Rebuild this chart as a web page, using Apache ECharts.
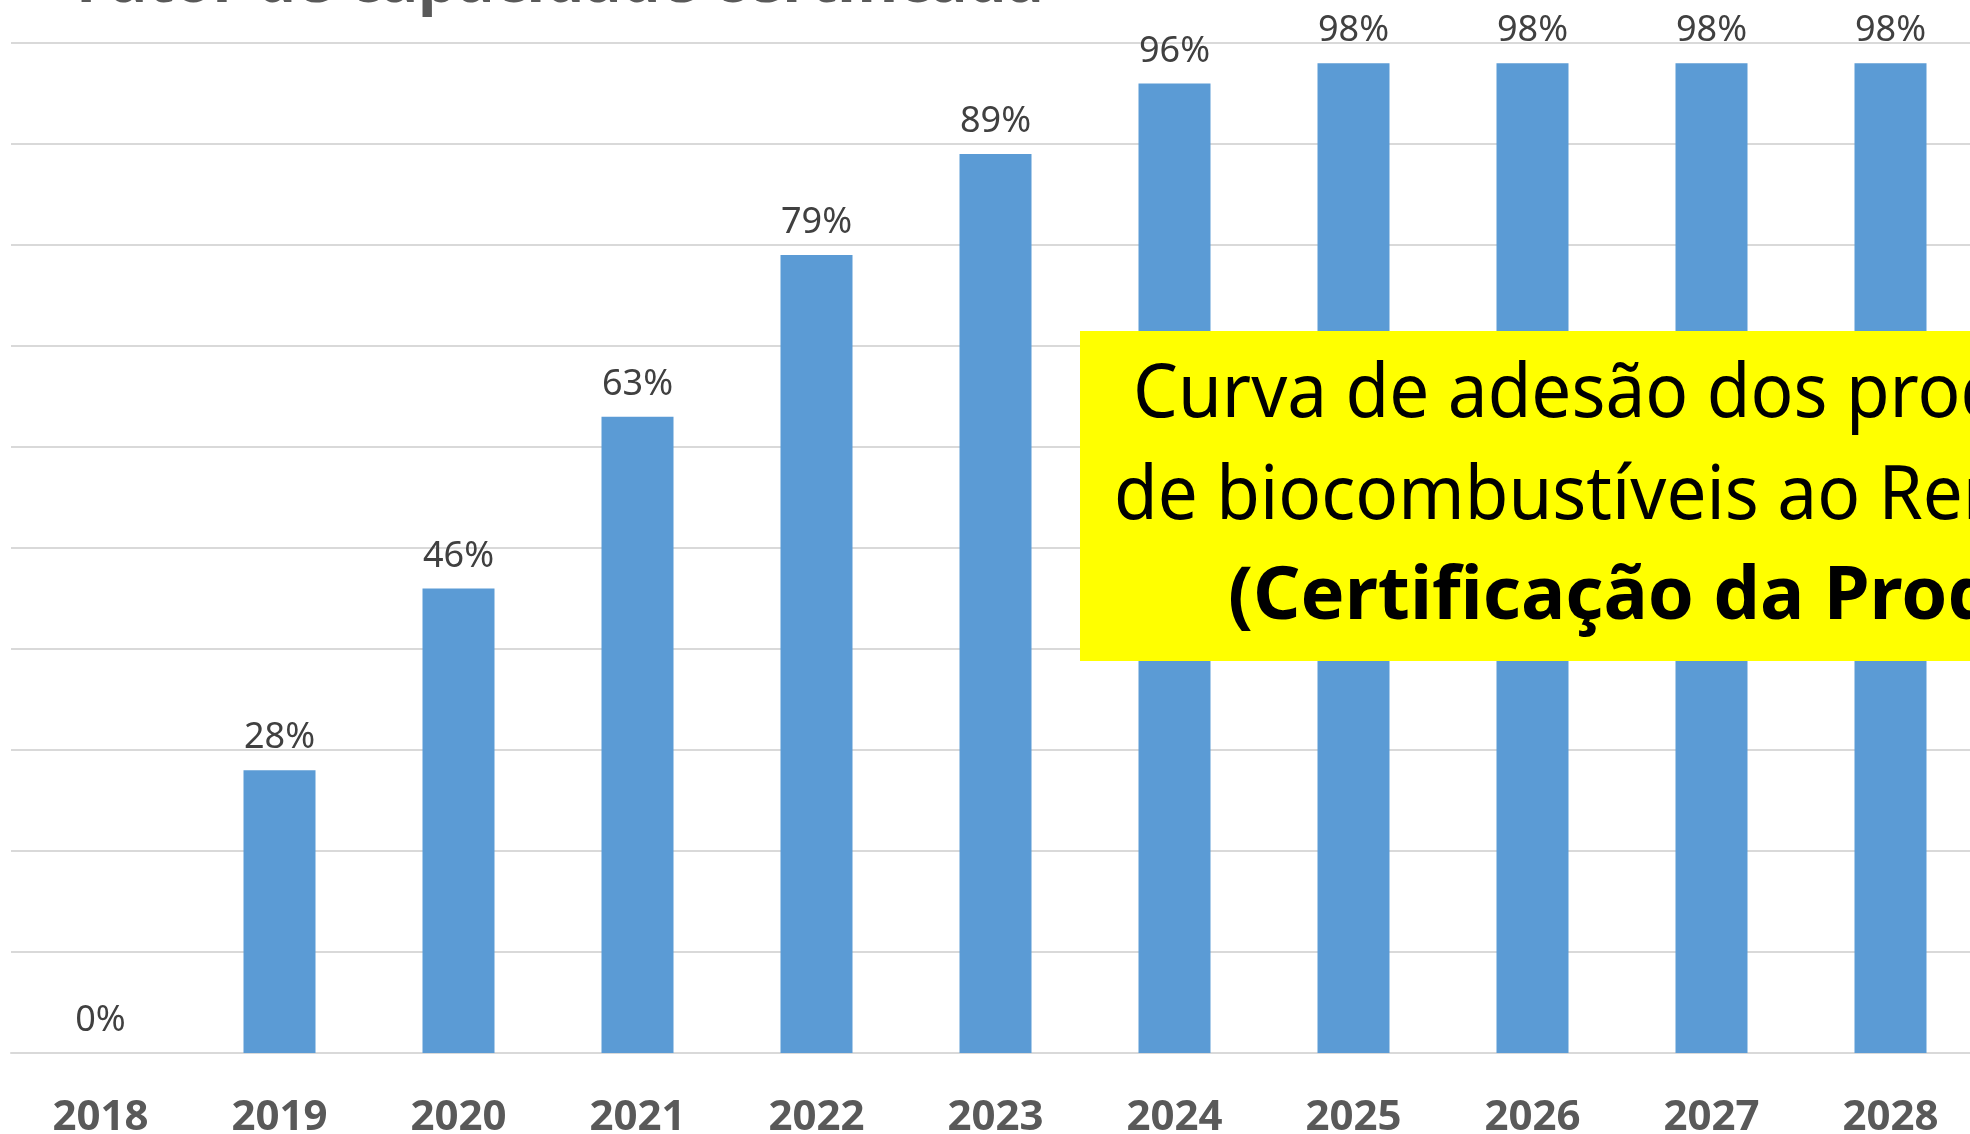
<!DOCTYPE html>
<html>
<head>
<meta charset="utf-8">
<script src="https://cdn.jsdelivr.net/npm/echarts@6/dist/echarts.min.js"></script>
<style>
html, body { margin: 0; padding: 0; background: #fff; }
#echarts-box { width: 1970px; height: 1134px; }
</style>
</head>
<body>
<div id="echarts-box"></div>
<script>
// data
var anos = ["2018", "2019", "2020", "2021", "2022", "2023", "2024", "2025", "2026", "2027", "2028"];
var adesao = [0, 28, 46, 63, 79, 89, 96, 98, 98, 98, 98];
var titulo = "Fator de capacidade certificada";
var caixaLinhas = [
    "Curva de adesão dos produtores",
    "de biocombustíveis ao RenovaBio",
    "(Certificação da Produção)"
];

var myChart = echarts.init(document.getElementById("echarts-box"));
var option = {
    backgroundColor: "#ffffff",
    animation: false,
    grid: { left: 11, top: 43, width: 1969, height: 1010, outerBoundsMode: "none", containLabel: false },
    xAxis: {
        type: "category",
        data: anos,
        axisLine: { lineStyle: { color: "#d9d9d9", width: 2 } },
        axisTick: { show: false },
        axisLabel: {
            margin: 44,
            fontFamily: "Noto Sans",
            fontWeight: "bold",
            fontSize: 42,
            color: "#595959"
        }
    },
    yAxis: {
        type: "value",
        min: 0,
        max: 100,
        interval: 10,
        axisLabel: { show: false },
        axisLine: { show: false },
        splitLine: { lineStyle: { color: "#d9d9d9", width: 2 } }
    },
    series: [
        {
            type: "bar",
            data: adesao,
            barWidth: 72,
            itemStyle: { color: "#5b9bd5" },
            label: {
                show: true,
                position: "top",
                distance: 14,
                formatter: "{c}%",
                fontFamily: "Noto Sans",
                fontSize: 36,
                color: "#404040"
            }
        }
    ],
    graphic: [
        {
            type: "text",
            x: 76,
            y: -16,
            z: 100,
            style: {
                text: titulo,
                font: "bold 62px 'Noto Sans'",
                fill: "#595959",
                verticalAlign: "middle"
            }
        },
        {
            type: "rect",
            z: 100,
            shape: { x: 1080, y: 331, width: 1000, height: 330 },
            style: { fill: "#ffff00" }
        },
        {
            type: "text",
            x: 1133,
            y: 396,
            z: 101,
            scaleX: 0.96,
            style: { text: caixaLinhas[0], font: "74px 'Noto Sans'", fill: "#000", verticalAlign: "middle" }
        },
        {
            type: "text",
            x: 1114,
            y: 498,
            z: 101,
            scaleX: 0.96,
            style: { text: caixaLinhas[1], font: "74px 'Noto Sans'", fill: "#000", verticalAlign: "middle" }
        },
        {
            type: "text",
            x: 1228,
            y: 598,
            z: 101,
            scaleX: 1.0,
            style: { text: caixaLinhas[2], font: "bold 74px 'Noto Sans'", fill: "#000", verticalAlign: "middle" }
        }
    ]
};
myChart.setOption(option);
</script>
</body>
</html>
